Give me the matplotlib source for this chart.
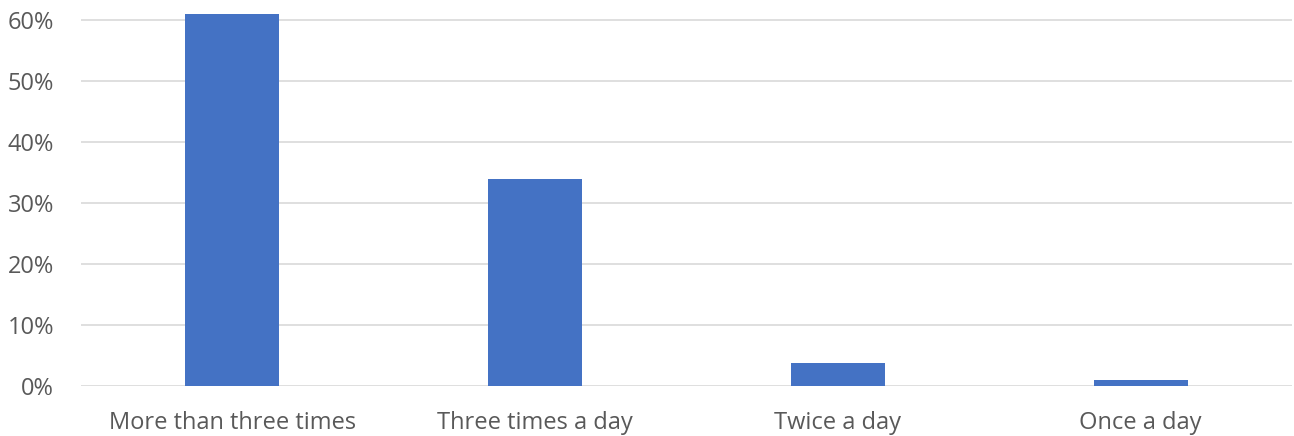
import matplotlib
matplotlib.use("Agg")
import matplotlib.pyplot as plt
from matplotlib.ticker import FuncFormatter

# ── Data ────────────────────────────────────────────────────────────────────
categories = ["More than three times", "Three times a day", "Twice a day", "Once a day"]
values = [61.0, 34.0, 3.7, 1.0]
yticks = [0, 10, 20, 30, 40, 50, 60]

# ── Plot ────────────────────────────────────────────────────────────────────
plt.rcParams["font.family"] = ["Open Sans", "DejaVu Sans"]

fig = plt.figure(figsize=(12.94, 4.36), dpi=100)
# 0% at y=386 px, 60% at y=20 px; leave a little headroom for the 61% bar
ymax = 62.0
px_per_unit = 366 / 60
ax = fig.add_axes([81 / 1294, 50 / 436, 1211 / 1294, ymax * px_per_unit / 436])

ax.bar(range(len(categories)), values, width=0.31, color="#4472c4", zorder=3)

ax.set_xlim(-0.5, len(categories) - 0.5)
ax.set_ylim(0, ymax)
ax.set_yticks(yticks)
ax.yaxis.set_major_formatter(FuncFormatter(lambda v, _: f"{v:.0f}%"))
ax.set_xticks(range(len(categories)))
ax.set_xticklabels(categories)

ax.grid(axis="y", color="#d9d9d9", linewidth=1.2, zorder=0)
for s in ax.spines.values():
    s.set_visible(False)
ax.tick_params(axis="both", length=0, labelsize=17, colors="#595959")
ax.tick_params(axis="y", pad=19.5)
ax.tick_params(axis="x", pad=18)

fig.savefig("out.png", dpi=100, facecolor="white")
